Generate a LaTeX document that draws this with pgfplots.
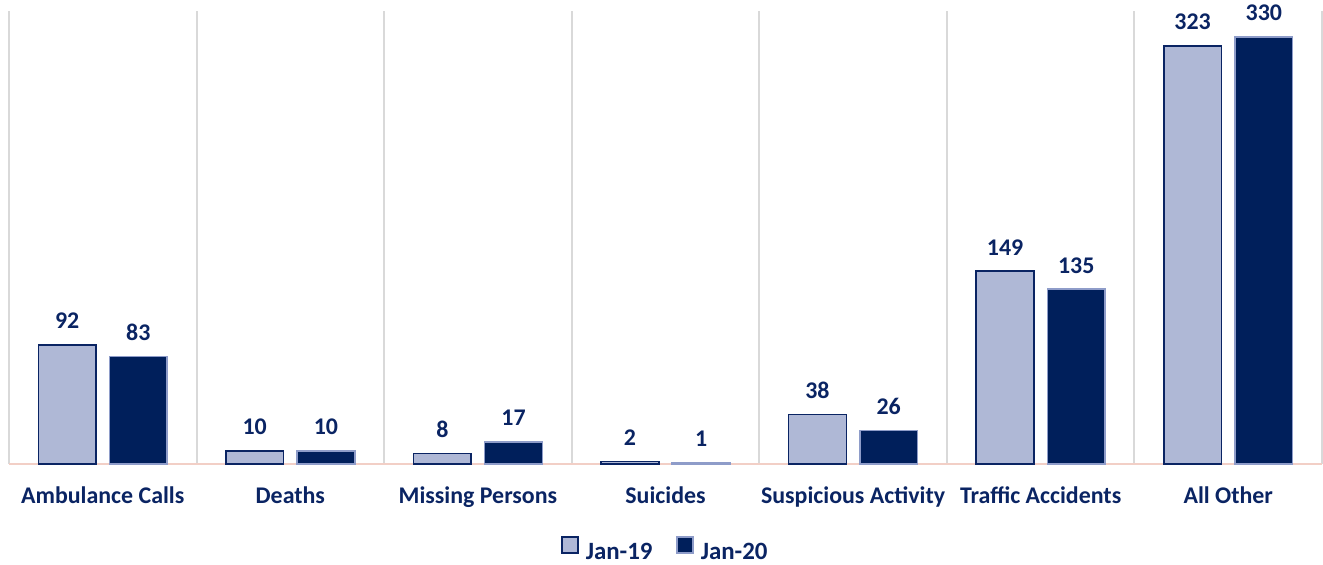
\documentclass[border=0pt]{standalone}
\usepackage{pgfplots}
\pgfplotsset{compat=1.18}
\usepackage{fontspec}
\setmainfont{Carlito}
\definecolor{navy}{HTML}{0A2463}
\definecolor{darkbar}{HTML}{001F5B}
\definecolor{lightbar}{HTML}{AFB8D6}
\definecolor{lightedge}{HTML}{8E9CC9}
\definecolor{gridc}{HTML}{D9D9D9}
\definecolor{axc}{HTML}{F2CFC6}
\begin{document}
\begin{tikzpicture}
\begin{axis}[
  scale only axis,
  width=1319pt, height=455pt,
  xmin=-0.5, xmax=6.5,
  ymin=0, ymax=350,
  ybar=13.5pt,
  bar width=58pt,
  xtick={0,1,2,3,4,5,6},
  xticklabels={Ambulance Calls,Deaths,Missing Persons,Suicides,Suspicious Activity,Traffic Accidents,All Other},
  minor xtick={-0.5,0.5,1.5,2.5,3.5,4.5,5.5,6.5},
  xminorgrids,
  minor grid style={draw=gridc, line width=2pt},
  major tick length=0pt, minor tick length=0pt,
  axis y line=none,
  axis x line*=bottom,
  x axis line style={draw=axc, line width=1.5pt, -},
  ytick=\empty,
  /pgf/number format/assume math mode=true,
  xticklabel style={font=\fontsize{24}{28}\selectfont\bfseries, text=navy, yshift=-19pt},
  nodes near coords,
  every node near coord/.append style={font=\fontsize{24}{28}\selectfont\bfseries, text=navy, yshift=12pt},
  legend columns=2,
  legend style={draw=none, fill=none, at={(0.5,-0.189)}, anchor=center,
    font=\fontsize{25}{29}\selectfont\bfseries, text=navy,
    /tikz/every odd column/.append style={column sep=5pt},
    /tikz/every even column/.append style={column sep=22pt}},
  legend image code/.code={\draw[#1, line width=1.5pt] (0pt,-1pt) rectangle (16pt,15pt);},
  clip=false,
]
\addplot[fill=lightbar, draw=navy, line width=1.5pt] coordinates {(0,92) (1,10) (2,8) (3,2) (4,38) (5,149) (6,323)};
\addplot[fill=darkbar, draw=lightedge, line width=1.5pt] coordinates {(0,83) (1,10) (2,17) (3,1) (4,26) (5,135) (6,330)};
\legend{Jan-19,Jan-20}
\end{axis}
\useasboundingbox (-9pt,-101pt) rectangle (1314pt,466pt);
\end{tikzpicture}
\end{document}
